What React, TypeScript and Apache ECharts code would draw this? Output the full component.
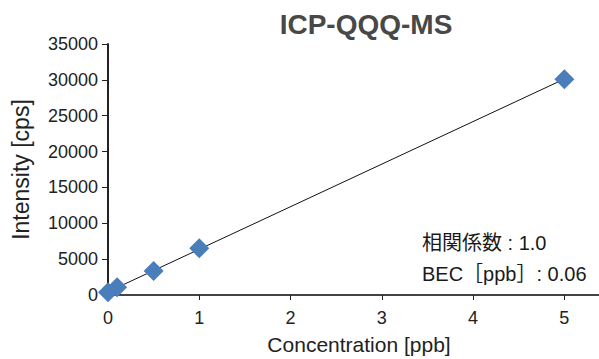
import React, { useEffect, useRef } from "react";
import * as echarts from "echarts";

const concentrations = [0, 0.1, 0.5, 1, 5];
const intensities = [370, 1070, 3346, 6510, 30100];
const xTickValues = [0, 1, 2, 3, 4, 5];
const titleText = "ICP-QQQ-MS";
const xName = "Concentration [ppb]";
const yName = "Intensity [cps]";
const annotationLines = ["相関係数 : 1.0", "BEC［ppb］: 0.06"];

const FONT = "'Liberation Sans', Arial, 'Noto Sans CJK JP', sans-serif";

function regression(xs: number[], ys: number[]) {
  const n = xs.length;
  const mx = xs.reduce((a, b) => a + b, 0) / n;
  const my = ys.reduce((a, b) => a + b, 0) / n;
  let sxx = 0;
  let sxy = 0;
  for (let i = 0; i < n; i++) {
    sxx += (xs[i] - mx) ** 2;
    sxy += (xs[i] - mx) * (ys[i] - my);
  }
  const slope = sxy / sxx;
  return { slope, intercept: my - slope * mx };
}

export default function App() {
  const ref = useRef<HTMLDivElement>(null);
  useEffect(() => {
    if (!ref.current) return;
    const chart = echarts.init(ref.current, null, { renderer: "svg" });
    const { slope, intercept } = regression(concentrations, intensities);
    const xMin = Math.min(...concentrations);
    const xMax = Math.max(...concentrations);
    const trend = [
      [xMin, intercept + slope * xMin],
      [xMax, intercept + slope * xMax],
    ];
    chart.setOption({
      animation: false,
      backgroundColor: "#fff",
      textStyle: { fontFamily: FONT },
      title: {
        text: titleText,
        left: 361,
        top: 5,
        textAlign: "center",
        textStyle: { fontFamily: FONT, fontSize: 28, fontWeight: "bold", color: "#484848" },
      },
      grid: { left: 108, width: 502, top: 44, bottom: 64, outerBoundsMode: "none", containLabel: false },
      xAxis: [
        {
          type: "value",
          min: 0,
          max: 5.5,
          interval: 0.5,
          position: "bottom",
          name: xName,
          nameLocation: "middle",
          nameGap: 39,
          nameTextStyle: { fontFamily: FONT, fontSize: 21, color: "#222" },
          axisLine: { show: true, onZero: false, lineStyle: { color: "#222", width: 2 } },
          axisTick: { show: true, length: 5, customValues: xTickValues, lineStyle: { color: "#222" } },
          axisLabel: { customValues: xTickValues, fontFamily: FONT, fontSize: 18, color: "#222", margin: 14 },
          splitLine: { show: false },
        },
        {
          type: "value",
          min: 0,
          max: 5.5,
          position: "top",
          axisLine: { show: true, lineStyle: { color: "#444", width: 2 } },
          axisTick: { show: false },
          axisLabel: { show: false },
          splitLine: { show: false },
        },
      ],
      yAxis: {
        type: "value",
        min: 0,
        max: 35000,
        interval: 5000,
        name: yName,
        nameLocation: "middle",
        nameGap: 76,
        nameTextStyle: { fontFamily: FONT, fontSize: 23, color: "#222" },
        axisLine: { show: true, lineStyle: { color: "#222", width: 2 } },
        axisTick: { show: true, length: 6, lineStyle: { color: "#222" } },
        axisLabel: {
          fontFamily: FONT,
          fontSize: 18,
          color: "#222",
          margin: 10,
          formatter: (v: number) => String(v),
        },
        splitLine: { show: false },
      },
      graphic: annotationLines.map((t, i) => ({
        type: "text",
        x: 422,
        y: 243 + i * 31,
        style: { text: t, font: `20px ${FONT}`, fill: "#1a1a1a", verticalAlign: "middle" },
      })),
      series: [
        {
          type: "line",
          data: trend,
          symbol: "none",
          lineStyle: { color: "#111", width: 1 },
          z: 1,
        },
        {
          type: "scatter",
          data: concentrations.map((c, i) => [c, intensities[i]]),
          symbol: "diamond",
          symbolSize: 20,
          itemStyle: { color: "#4a7ebb", opacity: 1 },
          z: 2,
        },
      ],
    });
    return () => chart.dispose();
  }, []);
  return <div ref={ref} style={{ width: 599, height: 359, position: "absolute", left: 0, top: 0 }} />;
}
